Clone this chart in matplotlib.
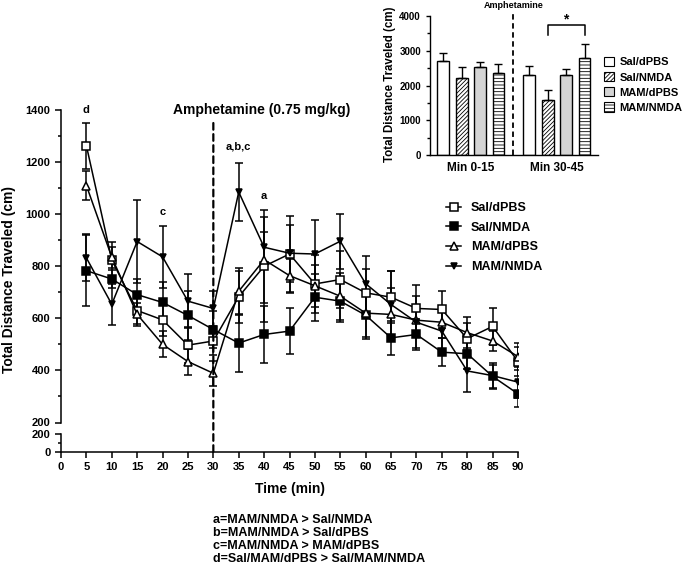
import numpy as np
import matplotlib
matplotlib.use("Agg")
from matplotlib import pyplot as plt
from matplotlib.patches import ConnectionPatch, Patch
from matplotlib.lines import Line2D

plt.rcParams['font.family'] = ['Liberation Sans', 'DejaVu Sans']
plt.rcParams['font.weight'] = 'bold'
plt.rcParams['hatch.linewidth'] = 0.6

# time course data (mean, SEM)
times = [5, 10, 15, 20, 25, 30, 35, 40, 45, 50, 55, 60, 65, 70, 75, 80, 85, 90]
sal_dpbs = [1263, 824, 630, 594, 497, 513, 683, 800, 847, 732, 749, 698, 681, 638, 634, 522, 569, 434]
sal_dpbs_err = [88, 70, 50, 60, 70, 55, 100, 215, 145, 110, 110, 90, 100, 90, 70, 60, 70, 55]
sal_nmda = [783, 751, 691, 661, 611, 557, 505, 538, 551, 681, 666, 612, 525, 538, 470, 464, 377, 310]
sal_nmda_err = [137, 35, 60, 80, 95, 70, 110, 108, 87, 90, 80, 93, 64, 60, 53, 60, 45, 50]
mam_dpbs = [1110, 835, 615, 500, 434, 389, 704, 825, 764, 725, 685, 620, 615, 593, 585, 545, 513, 453]
mam_dpbs_err = [55, 40, 45, 50, 50, 49, 90, 165, 65, 80, 90, 90, 100, 60, 60, 60, 40, 53]
mam_nmda = [832, 654, 895, 836, 666, 638, 1085, 873, 850, 847, 896, 733, 653, 585, 551, 398, 380, 355]
mam_nmda_err = [90, 78, 158, 120, 105, 66, 113, 60, 110, 132, 106, 108, 128, 100, 80, 81, 50, 60]

sig_labels = ['d', 'c', 'a,b,c', 'a']
sig_x = [5, 20, 35, 40]
sig_y = [1400, 1009, 1259, 1068]

# inset bar data
groups = ['Min 0-15', 'Min 30-45']
names = ['Sal/dPBS', 'Sal/NMDA', 'MAM/dPBS', 'MAM/NMDA']
bar_pre = [2700, 2210, 2530, 2360]
bar_pre_err = [230, 320, 150, 260]
bar_post = [2310, 1590, 2300, 2790]
bar_post_err = [260, 280, 180, 400]

notes = ['a=MAM/NMDA > Sal/NMDA',
         'b=MAM/NMDA > Sal/dPBS',
         'c=MAM/NMDA > MAM/dPBS',
         'd=Sal/MAM/dPBS > Sal/MAM/NMDA']

W, H = 685, 571
fig = plt.figure(figsize=(6.85, 5.71), dpi=100)

def px(x0, y0, x1, y1):
    return [x0 / W, 1 - y1 / H, (x1 - x0) / W, (y1 - y0) / H]

ax = fig.add_axes(px(61, 110, 518, 422.5))
axb = fig.add_axes(px(61, 434.3, 518, 451.7))

lw = 1.1
series = [
    (sal_dpbs, sal_dpbs_err, 's', 'white', 5.2),
    (sal_nmda, sal_nmda_err, 's', 'black', 5.2),
    (mam_dpbs, mam_dpbs_err, '^', 'white', 5.6),
    (mam_nmda, mam_nmda_err, 'v', 'black', 4.8),
]
for vals, errs, mk, fc, ms in series:
    ax.errorbar(times, vals, yerr=errs, color='black', lw=lw, marker=mk,
                mfc=fc, mec='black', mew=1.1, ms=ms, capsize=2.6,
                elinewidth=lw, capthick=lw)

ax.set_xlim(0, 90)
ax.set_ylim(200, 1400)
ax.set_yticks(range(200, 1401, 200))
ax.set_yticks(range(300, 1400, 200), minor=True)
for s in ['top', 'right', 'bottom']:
    ax.spines[s].set_visible(False)
ax.spines['left'].set_linewidth(lw)
ax.tick_params(axis='x', bottom=False, labelbottom=False)
ax.tick_params(axis='y', which='major', length=4, width=lw, labelsize=8)
ax.tick_params(axis='y', which='minor', length=2.5, width=lw)
ax.patch.set_alpha(0)

axb.set_xlim(0, 90)
axb.set_ylim(0, 200)
axb.set_yticks([0, 200])
axb.set_yticks([100], minor=True)
axb.set_xticks(range(0, 91, 5))
for s in ['top', 'right']:
    axb.spines[s].set_visible(False)
for s in ['left', 'bottom']:
    axb.spines[s].set_linewidth(lw)
axb.tick_params(which='major', length=4, width=lw, labelsize=8)
axb.tick_params(which='minor', length=2.5, width=lw)
axb.patch.set_alpha(0)

con = ConnectionPatch(xyA=(30, 1350), coordsA=ax.transData,
                      xyB=(30, 0), coordsB=axb.transData,
                      color='black', lw=1.6, linestyle=(0, (3, 2)))
fig.add_artist(con)

ax.text(39.6, 1400, 'Amphetamine (0.75 mg/kg)', ha='center', va='center', fontsize=10)
for lab, x, y in zip(sig_labels, sig_x, sig_y):
    ax.text(x, y, lab, ha='center', va='center', fontsize=8)

fig.text(9 / W, 1 - 280 / H, 'Total Distance Traveled (cm)', rotation=90,
         ha='center', va='center', fontsize=10)
fig.text(290 / W, 1 - 489 / H, 'Time (min)', ha='center', va='center', fontsize=10)
for i, line in enumerate(notes):
    fig.text(213 / W, 1 - (520 + 13 * i) / H, line, ha='left', va='center', fontsize=9)

handles = []
for vals, errs, mk, fc, ms in series:
    handles.append(Line2D([], [], color='black', lw=lw, marker=mk, mfc=fc,
                          mec='black', mew=1.1, ms=ms))
fig.legend(handles, names, loc='upper left', bbox_to_anchor=(446 / W, 1 - 202 / H),
           frameon=False, fontsize=9, handlelength=1.2, handletextpad=0.8,
           labelspacing=0.62, borderaxespad=0, borderpad=0)

# inset
axi = fig.add_axes(px(430, 16, 598, 155))
pos1 = np.arange(4)
pos2 = np.arange(4) + 4.68
fills = ['white', 'white', '#d4d4d4', 'white']
hatches = [None, '////////', None, '-----']
for i in range(4):
    for p, v, e in [(pos1[i], bar_pre[i], bar_pre_err[i]), (pos2[i], bar_post[i], bar_post_err[i])]:
        axi.bar(p, v, width=0.64, color=fills[i], edgecolor='black', lw=1.0,
                hatch=hatches[i])
        axi.errorbar(p, v, yerr=[[0], [e]], color='black', lw=1.0, capsize=3, capthick=1.0)
axi.set_xlim(-0.72, 8.41)
axi.set_ylim(0, 4000)
axi.set_yticks(range(0, 4001, 1000))
axi.set_yticks(range(500, 4000, 1000), minor=True)
axi.set_xticks([1.5, 4.68 + 1.5])
axi.set_xticklabels(groups, fontsize=8.5)
for s in ['top', 'right']:
    axi.spines[s].set_visible(False)
for s in ['left', 'bottom']:
    axi.spines[s].set_linewidth(1.0)
axi.tick_params(axis='x', length=0, pad=5)
axi.tick_params(axis='y', which='major', length=3, width=1.0, labelsize=7)
axi.tick_params(axis='y', which='minor', length=2, width=1.0)
axi.plot([3.8, 3.8], [0, 4090], color='black', lw=1.3, ls=(0, (3, 2)), clip_on=False)
axi.text(3.8, 4290, 'Amphetamine', ha='center', va='center', fontsize=6.5)
axi.plot([5.68, 5.68, 7.68, 7.68], [3450, 3730, 3730, 3450], color='black', lw=1.1, clip_on=False)
axi.text(6.68, 3900, '*', ha='center', va='center', fontsize=10)

fig.text(390 / W, 1 - 84 / H, 'Total Distance Traveled (cm)', rotation=90,
         ha='center', va='center', fontsize=8.3)

ph = [Patch(facecolor=fills[i], edgecolor='black', lw=0.8, hatch=hatches[i]) for i in range(4)]
fig.legend(ph, names, loc='upper left', bbox_to_anchor=(604 / W, 1 - 57 / H),
           frameon=False, fontsize=8, handlelength=0.9, handleheight=0.9,
           handletextpad=0.5, labelspacing=0.42, borderaxespad=0, borderpad=0)

fig.savefig('out.png', dpi=100)
